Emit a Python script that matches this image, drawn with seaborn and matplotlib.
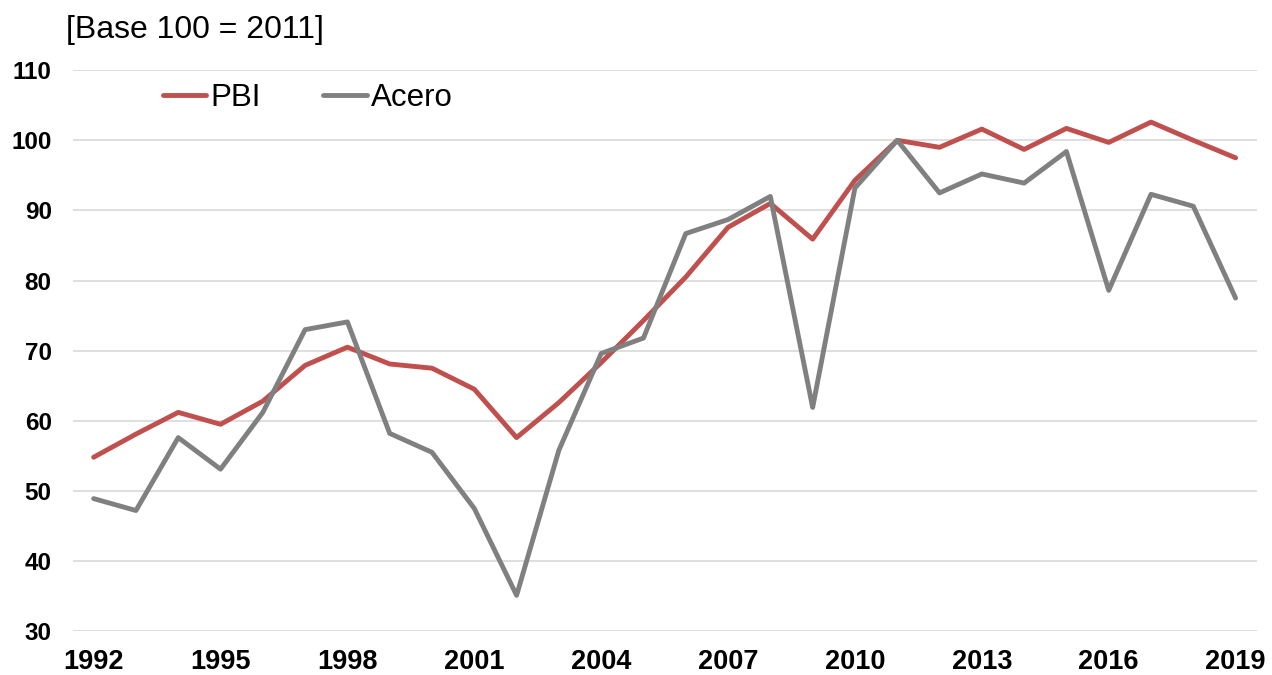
import pandas as pd
import matplotlib.pyplot as plt
import seaborn as sns

# Datos (índice base 100 = 2011)
years = list(range(1992, 2020))
pbi = [54.8, 58.1, 61.2, 59.5, 62.8, 67.9, 70.5, 68.1, 67.5, 64.5,
       57.6, 62.6, 68.3, 74.3, 80.5, 87.6, 91.0, 85.9, 94.3, 100.0,
       99.0, 101.6, 98.7, 101.7, 99.7, 102.6, 100.0, 97.5]
acero = [48.9, 47.2, 57.6, 53.1, 61.2, 73.0, 74.1, 58.2, 55.5, 47.5,
         35.1, 55.8, 69.6, 71.8, 86.7, 88.7, 92.0, 61.9, 93.2, 100.0,
         92.5, 95.2, 93.9, 98.4, 78.6, 92.3, 90.6, 77.5]
tick_years = [1992, 1995, 1998, 2001, 2004, 2007, 2010, 2013, 2016, 2019]
y_ticks = [30, 40, 50, 60, 70, 80, 90, 100, 110]

df = pd.DataFrame({"Año": years, "PBI": pbi, "Acero": acero})
df = df.melt(id_vars="Año", var_name="Serie", value_name="Indice")

sns.set_style("white")
plt.rcParams["font.family"] = ["Liberation Sans", "DejaVu Sans"]
plt.rcParams["text.color"] = "black"
plt.rcParams["xtick.color"] = "black"
plt.rcParams["ytick.color"] = "black"

fig = plt.figure(figsize=(12.72, 6.75), dpi=100)
ax = fig.add_axes([0.057, 0.065, 0.931, 0.831])

sns.lineplot(data=df, x="Año", y="Indice", hue="Serie",
             palette={"PBI": "#C0504D", "Acero": "#808080"},
             linewidth=3.5, ax=ax, legend=False)

ax.set_xlim(1991.5, 2019.5)
ax.set_ylim(30, 110)
ax.set_xticks(tick_years)
ax.set_yticks(y_ticks)
ax.set_xlabel("")
ax.set_ylabel("")
ax.grid(axis="y", color="#D9D9D9", linewidth=1.2)
ax.set_axisbelow(True)
for s in ax.spines.values():
    s.set_visible(False)
ax.tick_params(axis="x", length=0, pad=13, labelsize=19.5)
ax.tick_params(axis="y", length=0, pad=15, labelsize=17.5)
for lab in ax.get_xticklabels() + ax.get_yticklabels():
    lab.set_fontweight("bold")

# Leyenda
handles = [plt.Line2D([], [], color="#C0504D", linewidth=3.5),
           plt.Line2D([], [], color="#808080", linewidth=3.5)]
fig.legend(handles, ["PBI", "Acero"], loc="center left",
           bbox_to_anchor=(147 / 1272, 1 - 98 / 675), ncol=2,
           frameon=False, fontsize=22.5, borderpad=0, handlelength=1.4,
           handletextpad=0.12, columnspacing=2.0)

fig.text(0.052, 0.956, "[Base 100 = 2011]", fontsize=23, va="center", ha="left")

fig.savefig("out.png", dpi=100)
